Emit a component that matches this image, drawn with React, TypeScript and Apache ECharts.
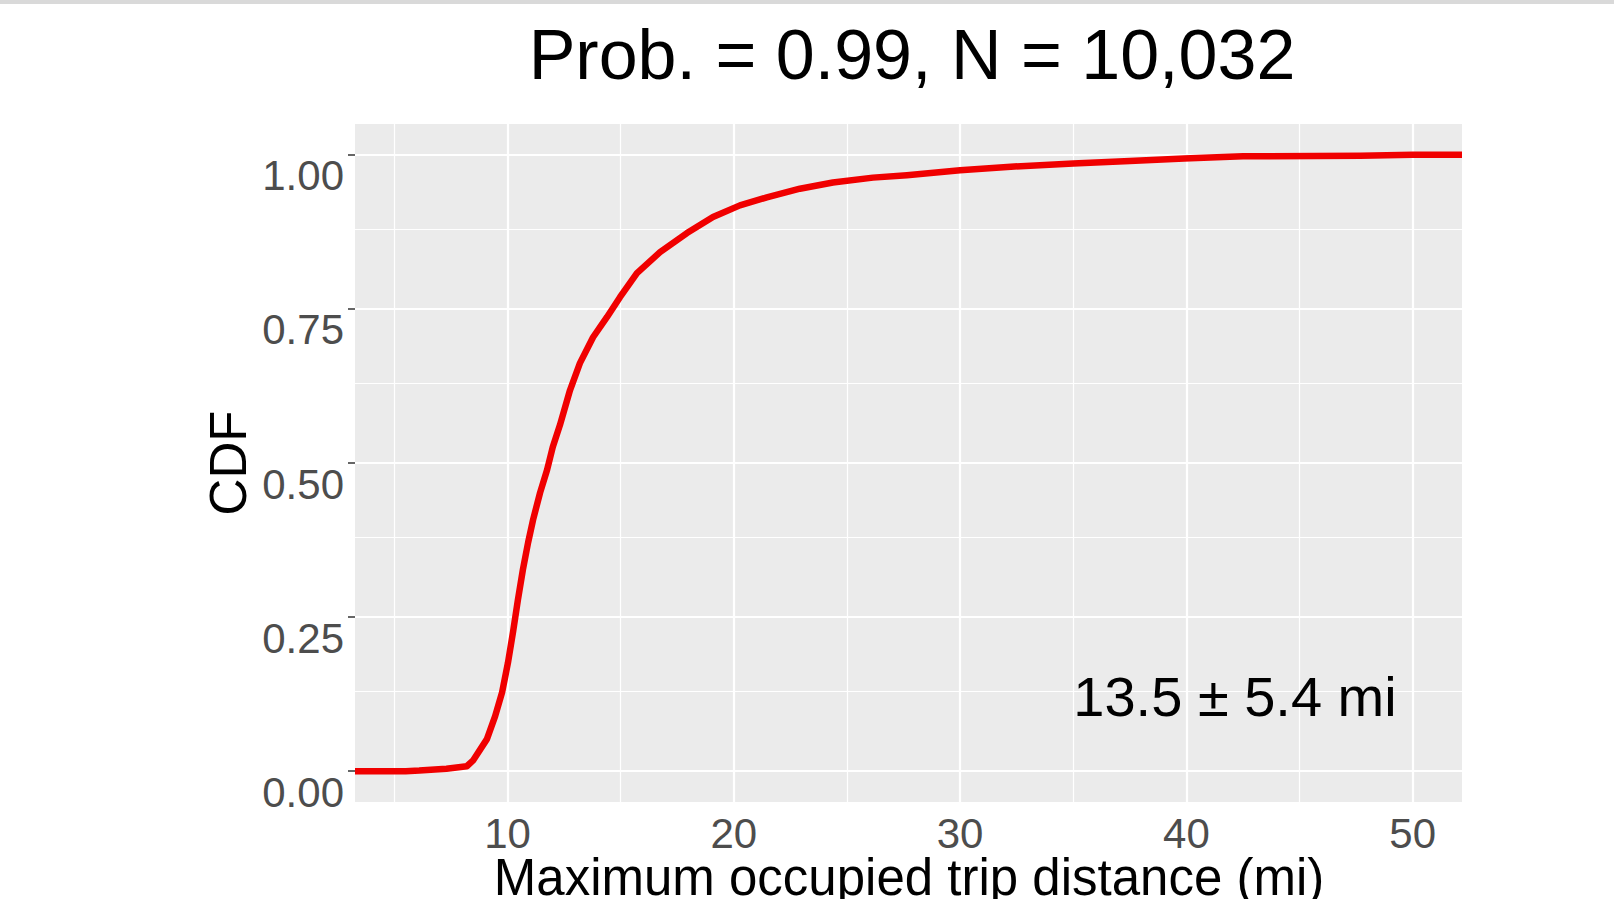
import React, { useEffect, useRef } from 'react';
import * as echarts from 'echarts';

// ---- data (ECDF of max occupied trip distance) ----
const distance = [5.5, 6.1, 7.3, 8.2, 8.47, 9.09, 9.45, 9.76, 10.02, 10.24, 10.46, 10.68, 10.91, 11.13, 11.44, 11.75, 12.0, 12.32, 12.76, 13.2, 13.78, 14.4, 14.97, 15.72, 16.74, 17.93, 19.08, 20.27, 21.46, 22.92, 24.38, 26.15, 27.65, 30.0, 32.4, 35.0, 37.5, 39.9, 42.5, 47.7, 50.0];
const cdf = [0, 0.001, 0.004, 0.008, 0.017, 0.052, 0.089, 0.128, 0.176, 0.225, 0.278, 0.327, 0.371, 0.408, 0.452, 0.489, 0.526, 0.562, 0.618, 0.662, 0.704, 0.737, 0.769, 0.808, 0.842, 0.873, 0.899, 0.918, 0.931, 0.945, 0.955, 0.963, 0.967, 0.975, 0.981, 0.986, 0.99, 0.994, 0.9975, 0.9985, 1.0];

const xTicks = [10, 20, 30, 40, 50];
const xMinor = [5, 15, 25, 35, 45];
const yTicks = [0, 0.25, 0.5, 0.75, 1];
const yMinor = [0.125, 0.375, 0.625, 0.875];

const xMin = 3.26;
const xMax = 52.18;
const yMin = -0.05;
const yMax = 1.05;

const titleText = 'Prob. = 0.99, N = 10,032';
const xTitle = 'Maximum occupied trip distance (mi)';
const yTitle = 'CDF';
const annotation = '13.5 \u00B1 5.4 mi';

const FONT = '"Liberation Sans", Arial, Helvetica, sans-serif';

export default function App() {
  const ref = useRef<HTMLDivElement>(null);
  useEffect(() => {
    const chart = echarts.init(ref.current!, undefined, { renderer: 'svg' });
    // stat_ecdf pads the curve out to the panel edges
    const curve: [number, number][] = [[xMin, 0]];
    distance.forEach((d, i) => curve.push([d, cdf[i]]));
    curve.push([xMax, 1]);

    const gridLines: any[] = [
      ...xMinor.map((v) => ({ xAxis: v, lineStyle: { width: 1.2 } })),
      ...xTicks.map((v) => ({ xAxis: v, lineStyle: { width: 2.2 } })),
      ...yMinor.map((v) => ({ yAxis: v, lineStyle: { width: 1.2 } })),
      ...yTicks.map((v) => ({ yAxis: v, lineStyle: { width: 2.2 } })),
    ];

    const option: any = {
      animation: false,
      backgroundColor: '#ffffff',
      textStyle: { fontFamily: FONT },
      grid: {
        left: 355,
        top: 124,
        width: 1107,
        height: 678,
        show: true,
        backgroundColor: '#EBEBEB',
        borderWidth: 0,
        containLabel: false,
      },
      xAxis: {
        type: 'value',
        min: xMin,
        max: xMax,
        axisLine: { show: false },
        splitLine: { show: false },
        axisTick: {
          show: true,
          customValues: xTicks,
          length: 7,
          lineStyle: { color: '#333333', width: 1.5 },
        },
        axisLabel: {
          customValues: xTicks,
          fontSize: 42,
          fontFamily: FONT,
          color: '#4D4D4D',
          margin: 10,
        },
      },
      yAxis: {
        type: 'value',
        min: yMin,
        max: yMax,
        axisLine: { show: false },
        splitLine: { show: false },
        axisTick: {
          show: true,
          customValues: yTicks,
          length: 7,
          lineStyle: { color: '#333333', width: 1.5 },
        },
        axisLabel: {
          customValues: yTicks,
          fontSize: 42,
          fontFamily: FONT,
          color: '#4D4D4D',
          margin: 11,
          verticalAlign: 'top',
          formatter: (v: number) => v.toFixed(2),
        },
      },
      series: [
        {
          type: 'line',
          z: 1,
          silent: true,
          data: curve,
          showSymbol: false,
          lineStyle: { opacity: 0, width: 0 },
          markLine: {
            silent: true,
            symbol: ['none', 'none'],
            label: { show: false },
            lineStyle: { color: '#FFFFFF', type: 'solid' },
            emphasis: { disabled: true },
            data: gridLines,
          },
        },
        {
          type: 'line',
          z: 5,
          data: curve,
          showSymbol: false,
          silent: true,
          lineStyle: { color: '#F00000', width: 6.5, cap: 'butt', join: 'round' },
        },
      ],
      graphic: [
        { type: 'rect', shape: { x: 0, y: 0, width: 1614, height: 4 }, style: { fill: '#D9D9D9' } },
        {
          type: 'text', x: 912, y: 55,
          style: { text: titleText, fontSize: 70, fontFamily: FONT, fill: '#000000', textAlign: 'center', textVerticalAlign: 'middle', align: 'center', verticalAlign: 'middle' },
        },
        {
          type: 'text', x: 228, y: 463, rotation: Math.PI / 2,
          style: { text: yTitle, fontSize: 51, fontFamily: FONT, fill: '#000000', textAlign: 'center', textVerticalAlign: 'middle', align: 'center', verticalAlign: 'middle' },
        },
        {
          type: 'text', x: 909, y: 877,
          style: { text: xTitle, fontSize: 51, fontFamily: FONT, fill: '#000000', textAlign: 'center', textVerticalAlign: 'middle', align: 'center', verticalAlign: 'middle' },
        },
        {
          type: 'text', x: 1235, y: 696, z: 10,
          style: { text: annotation, fontSize: 56, fontFamily: FONT, fill: '#000000', textAlign: 'center', textVerticalAlign: 'middle', align: 'center', verticalAlign: 'middle' },
        },
      ],
    };
    chart.setOption(option);
    return () => chart.dispose();
  }, []);
  return (
    <div
      ref={ref}
      style={{ position: 'fixed', left: 0, top: 0, width: 1614, height: 899, background: '#ffffff' }}
    />
  );
}
